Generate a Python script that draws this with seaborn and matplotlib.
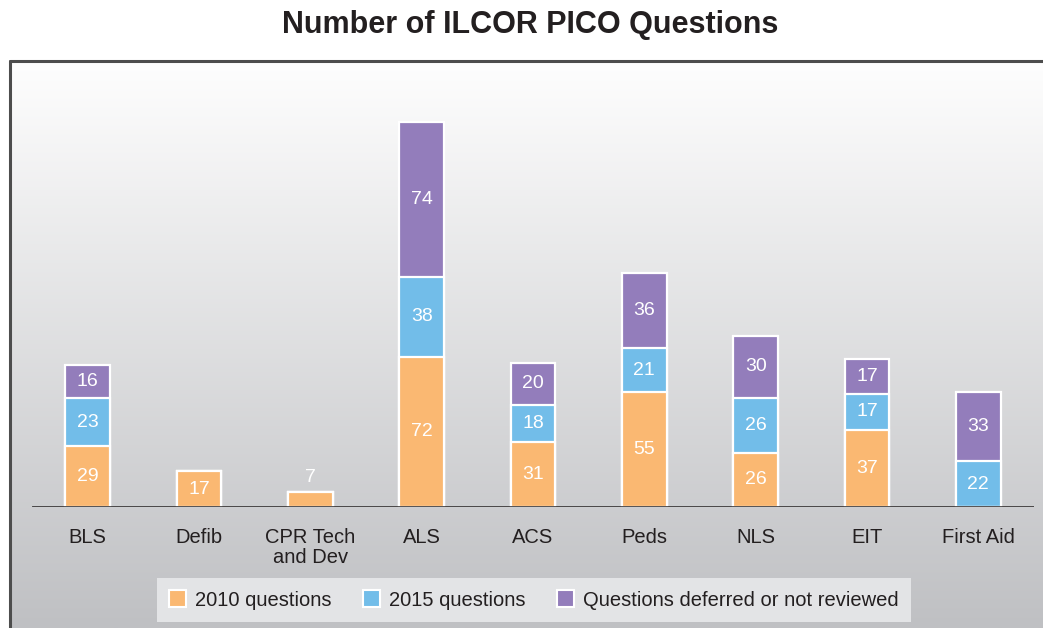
import numpy as np
import matplotlib
matplotlib.use("Agg")
import matplotlib.pyplot as plt
from matplotlib.patches import Patch
from matplotlib.lines import Line2D
import pandas as pd
import seaborn as sns

# data
categories = ["BLS", "Defib", "CPR Tech\nand Dev", "ALS", "ACS", "Peds", "NLS", "EIT", "First Aid"]
q2010 = [29, 17, 7, 72, 31, 55, 26, 37, 0]
q2015 = [23, 0, 0, 38, 18, 21, 26, 17, 22]
deferred = [16, 0, 0, 74, 20, 36, 30, 17, 33]
series_names = ["2010 questions", "2015 questions", "Questions deferred or not reviewed"]

colors = ["#FAB872", "#72BDE9", "#937DBB"]

sns.set_theme(style="white")
plt.rcParams["font.family"] = ["Liberation Sans", "DejaVu Sans"]

W, H = 1043, 628
fig = plt.figure(figsize=(W / 100, H / 100), dpi=100)
fig.patch.set_facecolor("white")

# gradient panel behind the chart
bg = fig.add_axes([10 / W, 0, 1 - 10 / W, (H - 61) / H], zorder=-2)
grad = np.linspace(0, 1, 256).reshape(-1, 1)
cmap = matplotlib.colors.LinearSegmentedColormap.from_list("bg", ["#fefefe", "#bfc0c3"])
bg.imshow(grad, aspect="auto", cmap=cmap, extent=[0, 1, 0, 1], origin="upper")
bg.set_axis_off()
frame_col = "#4d4d4d"
fig.add_artist(Line2D([10 / W, 10 / W], [0, (H - 61) / H], color=frame_col, lw=2.2, transform=fig.transFigure))
fig.add_artist(Line2D([10 / W, 1], [(H - 61) / H, (H - 61) / H], color=frame_col, lw=2.2, transform=fig.transFigure))

# main axes: baseline at y=507px, 2.09 px per unit
px_per_unit = 2.09
ymax = 200
ax_bottom = (H - 507) / H
ax_height = ymax * px_per_unit / H
ax = fig.add_axes([32 / W, ax_bottom, (1034 - 32) / W, ax_height])
ax.set_facecolor("none")

df = pd.DataFrame({"category": categories, "q2010": q2010, "q2015": q2015, "deferred": deferred})
df["s1"] = df["q2010"]
df["s2"] = df["q2010"] + df["q2015"]
df["s3"] = df["s2"] + df["deferred"]

# draw cumulative totals tallest first so each layer covers the one below
for col, c in zip(["s3", "s2", "s1"], colors[::-1]):
    sns.barplot(data=df, x="category", y=col, color=c, width=0.4,
                edgecolor="white", linewidth=1.6, saturation=1, ax=ax)

# value labels
bottoms = np.zeros(len(categories))
for vals in [q2010, q2015, deferred]:
    for i, v in enumerate(vals):
        if v == 0:
            continue
        if v < 10:
            y = bottoms[i] + v + 7
        else:
            y = bottoms[i] + v / 2
        ax.text(i, y, str(v), ha="center", va="center", color="white", fontsize=14)
    bottoms += np.array(vals)

ax.axhline(0, color="#231f20", lw=1.8, zorder=5)
ax.set_xlim(-0.5, len(categories) - 0.5)
ax.set_ylim(0, ymax)
ax.set_xlabel("")
ax.set_ylabel("")
ax.set_yticks([])
ax.tick_params(axis="x", length=0, pad=15, labelsize=14.5, labelcolor="#231f20")
for lab in ax.get_xticklabels():
    lab.set_linespacing(1.1)
for s in ax.spines.values():
    s.set_visible(False)

fig.text(530 / W, 1 - 25 / H, "Number of ILCOR PICO Questions", ha="center", va="center",
         fontsize=22, fontweight="bold", color="#231f20")

handles = [Patch(facecolor=c, edgecolor="white", linewidth=1.5) for c in colors]
leg = fig.legend(handles, series_names, loc="center", bbox_to_anchor=(534 / W, (H - 600) / H),
                 ncol=3, frameon=True, fancybox=False, fontsize=14.5, handlelength=0.85,
                 handleheight=0.85, handletextpad=0.45, columnspacing=1.55, borderpad=0.6,
                 borderaxespad=0)
leg.get_frame().set_facecolor("#e3e4e6")
leg.get_frame().set_edgecolor("none")
leg.get_frame().set_alpha(1)
for t in leg.get_texts():
    t.set_color("#231f20")

fig.savefig("out.png", dpi=100)
